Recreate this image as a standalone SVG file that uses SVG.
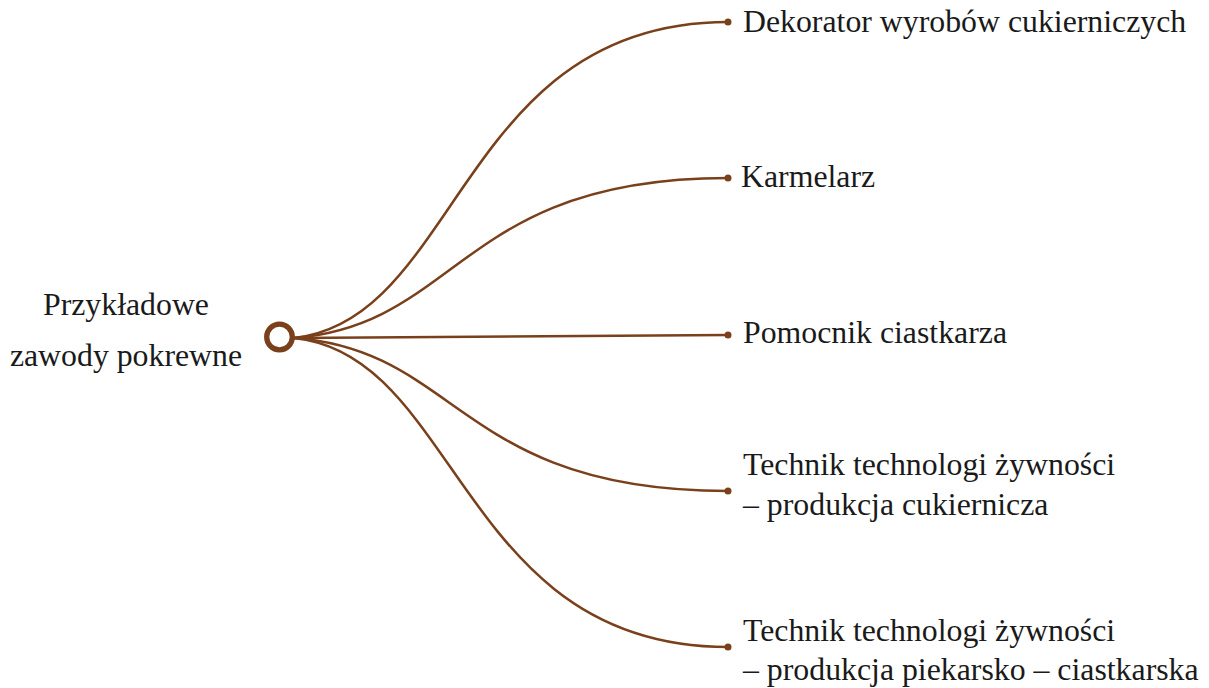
<svg xmlns="http://www.w3.org/2000/svg" width="1209" height="688" viewBox="0 0 1209 688">
<style>
.lbl{font-family:"Liberation Serif","DejaVu Serif",serif;font-size:31.8px;fill:#1a1a1a}
.conn{fill:none;stroke:#7a401c;stroke-width:2.5}
.dot{fill:#7a401c}
</style>
<rect width="1209" height="688" fill="#fff"/>
<g id="connectors">
<path class="conn" d="M294,338 C460,320 460,22 728,22"/>
<path class="conn" d="M294,338 C460,325 460,178 728,178"/>
<path class="conn" d="M294,338 L728,335"/>
<path class="conn" d="M294,338 C460,350 460,491 728,491"/>
<path class="conn" d="M294,338 C460,355 460,647 728,647"/>
<circle class="dot" cx="728" cy="22" r="3.5"/>
<circle class="dot" cx="728" cy="178" r="3.5"/>
<circle class="dot" cx="728" cy="335" r="3.5"/>
<circle class="dot" cx="728" cy="491" r="3.5"/>
<circle class="dot" cx="728" cy="647" r="3.5"/>
</g>
<g id="root">
<circle cx="279.5" cy="337" r="12.8" fill="#fff" stroke="#7a401c" stroke-width="5.3"/>
<text class="lbl" x="126" y="315" text-anchor="middle">Przykładowe</text>
<text class="lbl" x="126" y="366" text-anchor="middle">zawody pokrewne</text>
</g>
<g id="n1"><text class="lbl" x="743" y="32">Dekorator wyrobów cukierniczych</text></g>
<g id="n2"><text class="lbl" x="741" y="187">Karmelarz</text></g>
<g id="n3"><text class="lbl" x="743" y="343">Pomocnik ciastkarza</text></g>
<g id="n4"><text class="lbl" x="743" y="475">Technik technologi żywności</text><text class="lbl" x="743" y="515">– produkcja cukiernicza</text></g>
<g id="n5"><text class="lbl" x="743" y="641">Technik technologi żywności</text><text class="lbl" x="743" y="680">– produkcja piekarsko – ciastkarska</text></g>
</svg>
